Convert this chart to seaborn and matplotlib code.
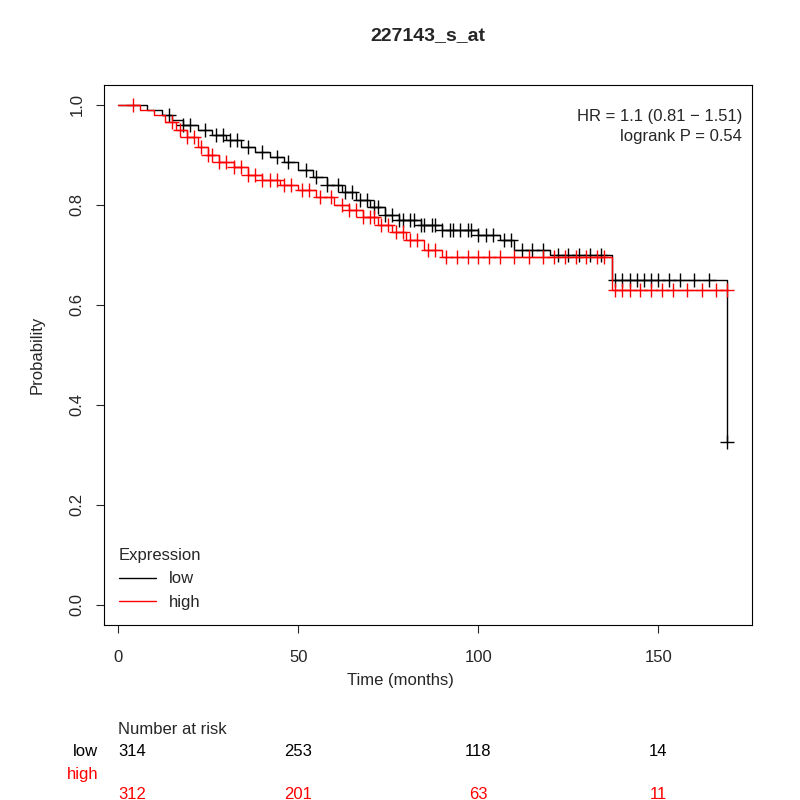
import numpy as np
import pandas as pd
import seaborn as sns
import matplotlib
matplotlib.use("Agg")
import matplotlib.pyplot as plt

sns.set_style("white")
plt.rcParams['font.family'] = ['Liberation Sans', 'DejaVu Sans']

# step curves (time in months, survival probability)
low_t = [0, 8, 12, 15, 18, 22, 26, 30, 34, 38, 42, 46, 50, 54, 58, 62, 66, 70, 74, 78, 84, 90, 100, 106, 110, 120, 137, 169]
low_s = [1.0, 0.99, 0.98, 0.97, 0.96, 0.95, 0.94, 0.93, 0.915, 0.905, 0.895, 0.885, 0.87, 0.855, 0.84, 0.825, 0.81, 0.795, 0.78, 0.77, 0.76, 0.75, 0.74, 0.73, 0.71, 0.70, 0.65, 0.325]
high_t = [0, 6, 10, 13, 16, 19, 22, 25, 28, 32, 36, 40, 45, 50, 55, 60, 64, 68, 72, 76, 80, 85, 90, 120, 137, 169]
high_s = [1.0, 0.99, 0.98, 0.965, 0.95, 0.935, 0.915, 0.9, 0.885, 0.875, 0.86, 0.85, 0.84, 0.83, 0.815, 0.80, 0.79, 0.775, 0.76, 0.745, 0.73, 0.71, 0.695, 0.695, 0.63, 0.63]

low_cens = [14, 18, 20, 24, 27, 29, 31, 33, 36, 40, 44, 47, 52, 55, 58, 61, 63, 65, 67, 69, 71, 72, 74, 76, 78, 79, 81, 82, 84, 85, 87, 88, 90, 92, 93, 95, 97, 98, 100, 102, 104, 107, 109, 112, 115, 118, 122, 125, 128, 131, 134, 138, 140, 142, 144, 146, 148, 150, 153, 156, 160, 164, 169]
high_cens = [4, 15, 17, 19, 21, 23, 25, 26, 28, 30, 32, 34, 36, 38, 40, 42, 44, 46, 48, 51, 53, 56, 59, 62, 64, 66, 68, 70, 71, 73, 75, 77, 79, 81, 83, 86, 88, 91, 94, 97, 100, 103, 106, 110, 114, 118, 121, 124, 127, 130, 133, 135, 138, 140, 142, 145, 148, 151, 154, 158, 162, 166, 169]

risk_times = [0, 50, 100, 150]
risk_low = [314, 253, 118, 14]
risk_high = [312, 201, 63, 11]


def surv_at(ts, ss, t):
    idx = np.searchsorted(ts, t, side='right') - 1
    return ss[idx]


fig = plt.figure(figsize=(8, 8), dpi=100)
ax = fig.add_axes([0.13, 0.219, 0.81, 0.675])

for ts, ss, cens, col, lab in [(low_t, low_s, low_cens, 'black', 'low'),
                                (high_t, high_s, high_cens, 'red', 'high')]:
    ax.step(ts, ss, where='post', color=col, lw=1, label=lab)
    cy = [surv_at(ts, ss, c) for c in cens]
    if col == 'black':
        cy[-1] = ss[-1]
    ax.plot(cens, cy, '+', color=col, ms=10, mew=1)

ax.set_xlim(-4, 176)
ax.set_ylim(-0.04, 1.04)
ax.set_xticks([0, 50, 100, 150])
ax.set_yticks([0.0, 0.2, 0.4, 0.6, 0.8, 1.0])
ax.set_yticklabels(['0.0', '0.2', '0.4', '0.6', '0.8', '1.0'], rotation=90, va='center')
ax.tick_params(axis='x', labelsize=12, direction='out', length=6, bottom=True, pad=12)
ax.tick_params(axis='y', labelsize=12, direction='out', length=6, left=True, pad=8)
for s in ax.spines.values():
    s.set_color('black')
ax.set_ylabel('Probability', fontsize=12, labelpad=18)
ax.set_title('227143_s_at', fontsize=14, fontweight='bold', pad=32)

leg = ax.legend(title='Expression', loc='lower left', frameon=False, fontsize=12,
                title_fontsize=12, handlelength=2.2, bbox_to_anchor=(0.0, 0.0))
leg._legend_box.align = 'left'

ax.text(0.985, 0.955, 'HR = 1.1 (0.81 − 1.51)\nlogrank P = 0.54', transform=ax.transAxes,
        ha='right', va='top', fontsize=12, linespacing=1.4)

fig.text(0.5, 0.15, 'Time (months)', ha='center', va='center', fontsize=12)
fig.text(0.147, 0.0875, 'Number at risk', ha='left', va='center', fontsize=12)
tr = ax.get_xaxis_transform()
for i, t in enumerate(risk_times):
    ha = 'left' if i == 0 else 'center'
    ax.text(t, -0.235, str(risk_low[i]), transform=tr, ha=ha, va='center', fontsize=12, color='black')
    ax.text(t, -0.315, str(risk_high[i]), transform=tr, ha=ha, va='center', fontsize=12, color='red')
fig.text(0.123, 0.06, 'low', ha='right', va='center', fontsize=12, color='black')
fig.text(0.123, 0.0325, 'high', ha='right', va='center', fontsize=12, color='red')

fig.savefig('out.png', dpi=100)
